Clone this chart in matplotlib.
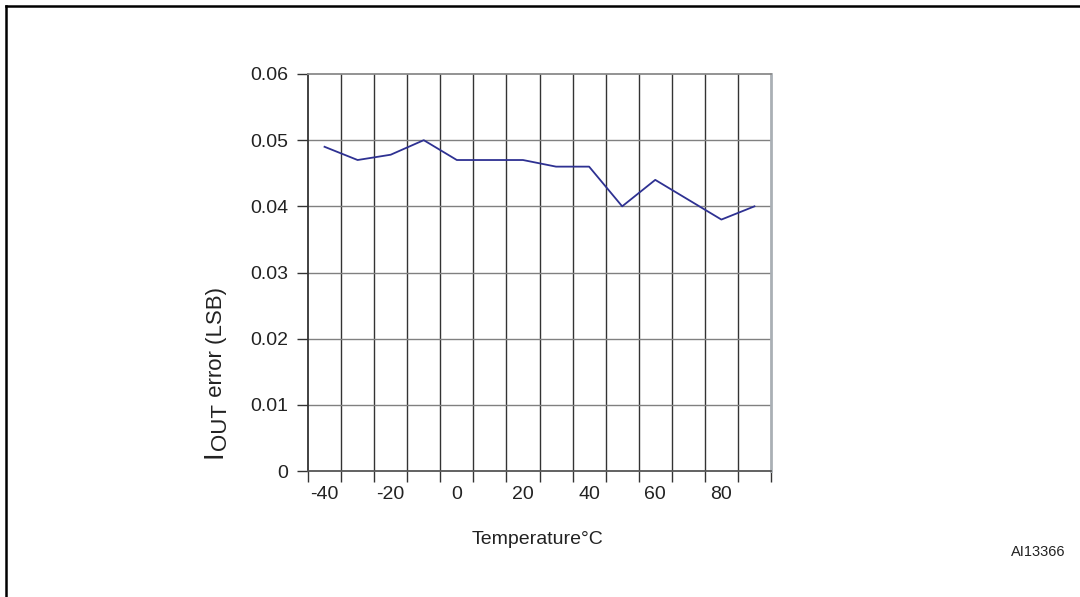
import matplotlib
matplotlib.use("Agg")
import matplotlib.pyplot as plt
from matplotlib.lines import Line2D
import numpy as np

plt.rcParams['font.family'] = ['Liberation Sans', 'DejaVu Sans']

# Temperature categories (°C) and measured IOUT error (LSB)
temperatures = [-40, -30, -20, -10, 0, 10, 20, 30, 40, 50, 60, 70, 80, 90]
iout_error = [0.049, 0.047, 0.0478, 0.050, 0.047, 0.047, 0.047, 0.046, 0.046,
              0.040, 0.044, 0.041, 0.038, 0.040]
x_tick_labels = ['-40', '-20', '0', '20', '40', '60', '80']
y_ticks = [0, 0.01, 0.02, 0.03, 0.04, 0.05, 0.06]
y_tick_labels = ['0', '0.01', '0.02', '0.03', '0.04', '0.05', '0.06']

W, H = 1080, 597
fig = plt.figure(figsize=(W / 100, H / 100), dpi=100)
ax = fig.add_axes([308 / W, 1 - 471 / H, (771 - 308) / W, (471 - 74) / H])

idx = np.arange(len(temperatures))
ax.plot(idx, iout_error, color='#2e3192', lw=1.3, zorder=5)

ax.set_xlim(-0.5, len(temperatures) - 0.5)
ax.set_ylim(0, 0.06)

# Category boundaries carry the tick marks and vertical grid lines
bounds = np.arange(-0.5, len(temperatures), 1.0)
ax.set_xticks(bounds)
ax.set_xticklabels([])
ax.tick_params(axis='x', which='major', direction='out', length=8, width=1, color='#333333')
for b in bounds[1:-1]:
    ax.axvline(b, color='#333333', lw=1.0, zorder=2)

# Labels centred on every other category
label_pos = [temperatures.index(int(t)) for t in x_tick_labels]
ax.set_xticks(label_pos, minor=True)
ax.set_xticklabels(x_tick_labels, minor=True, fontsize=14, color='#222222')
ax.tick_params(axis='x', which='minor', length=0, pad=11)

ax.set_yticks(y_ticks)
ax.set_yticklabels(y_tick_labels, fontsize=14, color='#222222')
ax.tick_params(axis='y', direction='out', length=8, width=1, color='#333333', pad=6)
for yv in y_ticks[1:-1]:
    ax.axhline(yv, color='#808080', lw=1.0, zorder=2)

ax.spines['left'].set_color('#333333')
ax.spines['left'].set_linewidth(1.3)
ax.spines['bottom'].set_color('#555555')
ax.spines['bottom'].set_linewidth(1.3)
ax.spines['top'].set_color('#8a8a8a')
ax.spines['top'].set_linewidth(1.3)
ax.spines['right'].set_color('#aab0b5')
ax.spines['right'].set_linewidth(2.0)

# Axis titles
fig.text(538 / W, 1 - 540 / H, 'Temperature°C', fontsize=14, color='#222222',
         ha='center', va='center')

# Y label: large "I", subscript "OUT", then " error (LSB)", rotated
renderer = fig.canvas.get_renderer()
base_x = 222 / W
start_y = 1 - 458 / H
t1 = fig.text(base_x, start_y, 'I', fontsize=20, rotation=90, rotation_mode='anchor',
              ha='left', va='baseline', color='#222222')
e1 = t1.get_window_extent(renderer)
y2 = start_y + e1.height / H
t2 = fig.text(base_x + 4 / W, y2, 'OUT', fontsize=16, rotation=90, rotation_mode='anchor',
              ha='left', va='baseline', color='#222222')
e2 = t2.get_window_extent(renderer)
y3 = y2 + e2.height / H
fig.text(base_x, y3, ' error (LSB)', fontsize=16, rotation=90, rotation_mode='anchor',
         ha='left', va='baseline', color='#222222')

# Figure reference code
fig.text(1065 / W, 1 - 552 / H, 'AI13366', fontsize=10.5, color='#222222',
         ha='right', va='center')

# Frame around the figure
fig.add_artist(Line2D([5.5 / W, 1.0], [1 - 6 / H, 1 - 6 / H], transform=fig.transFigure,
                      color='black', lw=1.8))
fig.add_artist(Line2D([5.5 / W, 5.5 / W], [0, 1 - 6 / H], transform=fig.transFigure,
                      color='black', lw=1.8))

fig.savefig('out.png', dpi=100)
